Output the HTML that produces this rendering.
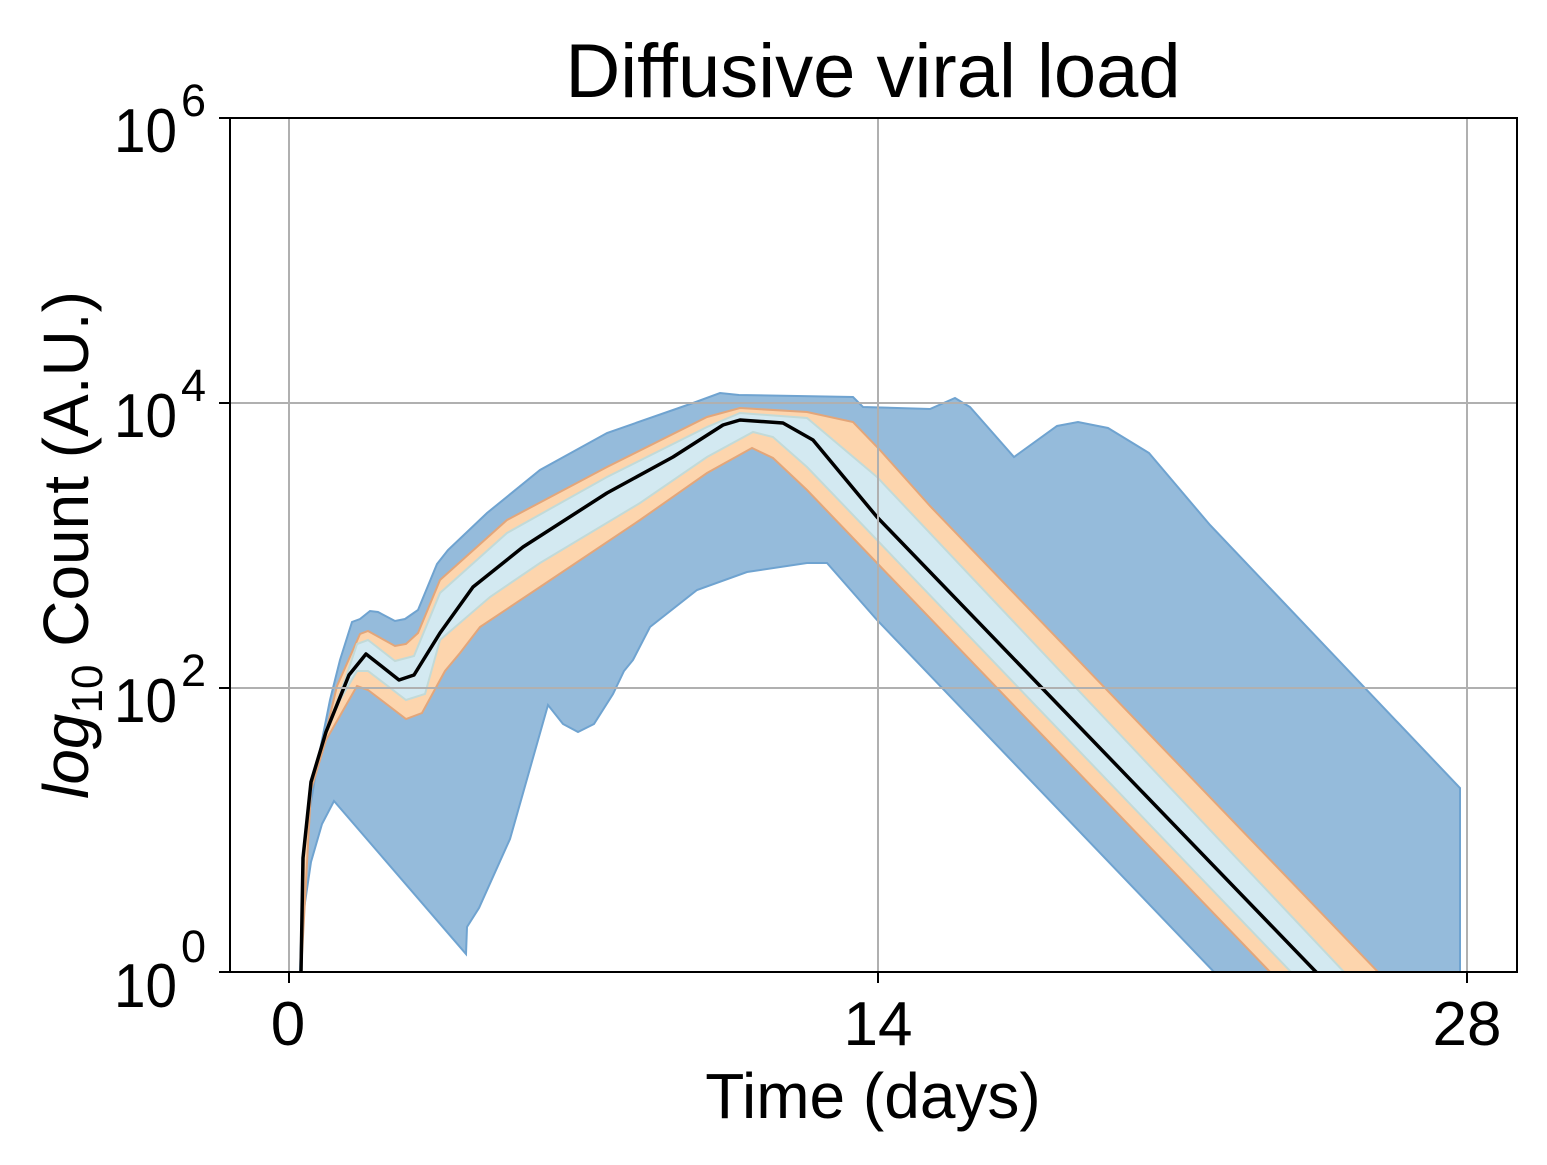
<!DOCTYPE html>
<html><head><meta charset="utf-8"><style>body{margin:0;background:#fff}svg{display:block}text{font-family:"Liberation Sans",Arial,sans-serif;fill:#000}</style></head><body>
<svg width="1547" height="1165" viewBox="0 0 1547 1165" xmlns="http://www.w3.org/2000/svg">
<rect width="1547" height="1165" fill="#fff"/>
<defs><clipPath id="c"><rect x="230" y="118" width="1287" height="854"/></clipPath></defs>
<g clip-path="url(#c)">
<polygon fill="#95bbdb" stroke="#6fa3d0" stroke-width="2" points="300,973 303,880 308,820 318,760 330,700 340,660 352,622 360,619 370,611 378,612 395,621 405,619 418,610 437,564 448,550 487,513 540,470 607,433 673,410 693,403 720,393 739,395 853,397 863,407 930,409 955,398 970,407 1014,457 1057,426 1078,422 1108,428 1149,453 1210,525 1460,788 1460,973 1215,973 877,620 827,563 807,563 747,572 697,590 650,627 633,660 624,671 613,694 594,724 578,732 563,724 548,705 510,839 479,908 467,927 466,954 334,801 322,824 311,862 303,916 301,973"/>
<polygon fill="#fdd5ad" stroke="#e3a67a" stroke-width="2" points="301,973 303,858 311,782 326,732 337,686 360,634 368,631 395,646 406,644 418,633 440,580 507,520 607,467 707,417 740,408 807,412 853,422 879,449 930,506 1379,973 1271,973 877,563 807,490 773,458 752,448 707,473 640,520 540,587 480,627 460,653 445,671 422,713 406,719 368,690 357,686 337,721 326,740 311,790"/>
<polygon fill="#d3e9f1" stroke="#c2dad8" stroke-width="2" points="326,732 345,680 357,644 368,640 395,661 414,656 440,593 507,533 607,477 707,427 740,413 807,418 877,477 1345,973 1292,973 877,540 807,467 773,437 753,432 707,457 640,503 540,563 490,597 440,640 425,694 406,700 368,671 357,671 340,700"/>
<polyline fill="none" stroke="#000" stroke-width="3.5" stroke-linejoin="round" points="301,973 303,858 311,782 326,732 349,675 366,654 380,665 399,680 414,675 440,633 473,587 523,547 607,493 673,457 723,425 740,420 783,423 813,440 877,517 1317,973"/>
</g>
<g stroke="#b0b0b0" stroke-width="2">
<line x1="289" y1="118" x2="289" y2="972"/><line x1="878" y1="118" x2="878" y2="972"/><line x1="1467" y1="118" x2="1467" y2="972"/>
<line x1="230" y1="403" x2="1517" y2="403"/><line x1="230" y1="688" x2="1517" y2="688"/>
</g>
<rect x="230" y="118" width="1287" height="854" fill="none" stroke="#000" stroke-width="2"/>
<g stroke="#000" stroke-width="2">
<line x1="289" y1="972" x2="289" y2="983"/><line x1="878" y1="972" x2="878" y2="983"/><line x1="1467" y1="972" x2="1467" y2="983"/>
<line x1="219" y1="118" x2="230" y2="118"/><line x1="219" y1="403" x2="230" y2="403"/><line x1="219" y1="688" x2="230" y2="688"/><line x1="219" y1="972" x2="230" y2="972"/>
</g>
<text x="873" y="97" font-size="76" text-anchor="middle">Diffusive viral load</text>
<g font-size="62" text-anchor="middle"><text x="288" y="1045">0</text><text x="878" y="1045">14</text><text x="1467" y="1045">28</text></g>
<text x="873" y="1118" font-size="64" text-anchor="middle">Time (days)</text>
<g font-size="62">
<text x="114" y="152" textLength="63" lengthAdjust="spacingAndGlyphs">10</text><text x="181" y="116" font-size="45">6</text>
<text x="114" y="437" textLength="63" lengthAdjust="spacingAndGlyphs">10</text><text x="181" y="401" font-size="45">4</text>
<text x="114" y="722" textLength="63" lengthAdjust="spacingAndGlyphs">10</text><text x="181" y="686" font-size="45">2</text>
<text x="114" y="1007" textLength="63" lengthAdjust="spacingAndGlyphs">10</text><text x="181" y="962" font-size="45">0</text>
</g>
<text transform="translate(88,545) rotate(-90)" font-size="64" text-anchor="middle"><tspan font-style="italic">log</tspan><tspan font-size="44" dy="14">10</tspan><tspan dy="-14"> Count (A.U.)</tspan></text>
</svg>
</body></html>
